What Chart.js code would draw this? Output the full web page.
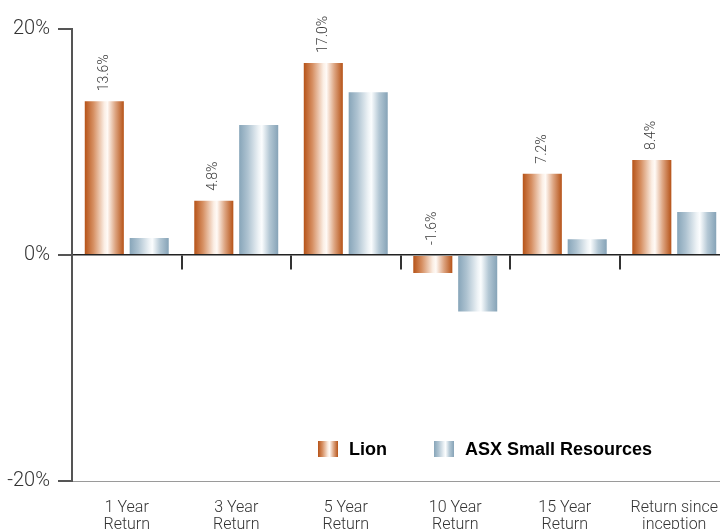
<!DOCTYPE html>
<html>
<head>
<meta charset="utf-8">
<script src="https://cdn.jsdelivr.net/npm/chart.js@4.4.1/dist/chart.umd.min.js"></script>
<style>
  html, body { margin: 0; padding: 0; background: #fff; overflow: hidden; }
  #grafico { display: block; }
</style>
</head>
<body>
<canvas id="grafico" width="737" height="530"></canvas>
<script>
const categorias = [['1 Year', 'Return'], ['3 Year', 'Return'], ['5 Year', 'Return'], ['10 Year', 'Return'], ['15 Year', 'Return'], ['Return since', 'inception']];
const valoresLion = [13.6, 4.8, 17.0, -1.6, 7.2, 8.4];
const valoresASX = [1.5, 11.5, 14.4, -5.0, 1.4, 3.8];
const ticksY = [-20, 0, 20];
const nombresSeries = ['Lion', 'ASX Small Resources'];

const catPct = 0.82;
const barPct = 0.87;
const fuenteLigera = 'Roboto, "Liberation Sans", sans-serif';

const paradasNaranja = [[0, '#b65318'], [0.22, '#d68f62'], [0.5, '#fbeee4'], [0.58, '#fffaf6'], [0.78, '#dda582'], [1, '#b65318']];
const paradasAzul = [[0, '#87a5b9'], [0.22, '#aec3d1'], [0.5, '#eef3f6'], [0.58, '#fbfdfe'], [0.78, '#b3c7d4'], [1, '#86a3b7']];

function degradado(chart, i, ds, paradas) {
  const xs = chart.scales.x;
  if (!xs || !chart.chartArea) return paradas[0][1];
  const ancho = xs.width / categorias.length;
  const slot = ancho * catPct / 2;
  const barra = slot * barPct;
  const centro = xs.getPixelForValue(i) + (ds === 0 ? -slot / 2 : slot / 2);
  const g = chart.ctx.createLinearGradient(centro - barra / 2, 0, centro + barra / 2, 0);
  paradas.forEach(([p, c]) => g.addColorStop(p, c));
  return g;
}

function degradadoCaja(ctx, x, w, paradas) {
  const g = ctx.createLinearGradient(x, 0, x + w, 0);
  paradas.forEach(([p, c]) => g.addColorStop(p, c));
  return g;
}

// etiquetas rotadas encima de las barras de Lion
const etiquetas = {
  id: 'etiquetas',
  afterDatasetsDraw(chart) {
    const { ctx } = chart;
    const ys = chart.scales.y;
    const meta = chart.getDatasetMeta(0);
    ctx.save();
    ctx.font = '300 14px ' + fuenteLigera;
    ctx.fillStyle = '#3a3a3a';
    ctx.textAlign = 'left';
    ctx.textBaseline = 'middle';
    meta.data.forEach((el, i) => {
      const v = valoresLion[i];
      const y = ys.getPixelForValue(Math.max(v, 0)) - 10;
      ctx.save();
      ctx.translate(el.x, y);
      ctx.rotate(-Math.PI / 2);
      ctx.fillText(v.toFixed(1) + '%', 0, 0);
      ctx.restore();
    });
    ctx.restore();
  }
};

// leyenda dentro del area del grafico
const leyenda = {
  id: 'leyenda',
  afterDraw(chart) {
    const { ctx, chartArea } = chart;
    const y = chartArea.bottom - 32;
    const items = [
      { x: chartArea.left + 246, paradas: paradasNaranja, texto: nombresSeries[0] },
      { x: chartArea.left + 362, paradas: paradasAzul, texto: nombresSeries[1] }
    ];
    ctx.save();
    ctx.font = 'bold 18px "Liberation Sans", Arial, sans-serif';
    ctx.textBaseline = 'middle';
    items.forEach(it => {
      ctx.fillStyle = degradadoCaja(ctx, it.x, 20, it.paradas);
      ctx.fillRect(it.x, y - 8, 20, 16);
      ctx.fillStyle = '#000';
      ctx.fillText(it.texto, it.x + 31, y + 1);
    });
    ctx.restore();
  }
};

new Chart(document.getElementById('grafico'), {
  type: 'bar',
  data: {
    labels: categorias,
    datasets: [
      {
        label: nombresSeries[0],
        data: valoresLion,
        backgroundColor: c => degradado(c.chart, c.dataIndex, 0, paradasNaranja),
        categoryPercentage: catPct,
        barPercentage: barPct
      },
      {
        label: nombresSeries[1],
        data: valoresASX,
        backgroundColor: c => degradado(c.chart, c.dataIndex, 1, paradasAzul),
        categoryPercentage: catPct,
        barPercentage: barPct
      }
    ]
  },
  options: {
    responsive: false,
    animation: false,
    layout: { padding: { top: 29, left: 0, right: 0, bottom: 0 } },
    plugins: {
      legend: { display: false },
      tooltip: { enabled: false }
    },
    scales: {
      x: {
        offset: true,
        grid: { display: false, drawTicks: false },
        border: { display: true, color: '#9a9a9a', width: 1, dash: [1, 2] },
        ticks: {
          color: '#333',
          padding: 19,
          maxRotation: 0,
          autoSkip: false,
          font: { family: fuenteLigera, size: 16, weight: '300', lineHeight: 1.05 }
        },
        afterFit: s => { s.height = 49; }
      },
      x2: {
        type: 'category',
        labels: categorias,
        position: { y: 0 },
        offset: true,
        grid: { offset: true, drawOnChartArea: false, drawTicks: true, tickLength: 14, color: '#333', lineWidth: 2 },
        border: { display: true, color: '#222', width: 1.5 },
        ticks: { display: false },
        afterFit: s => { s.height = 0; }
      },
      y: {
        min: -20,
        max: 20,
        afterBuildTicks: s => { s.ticks = ticksY.map(v => ({ value: v })); },
        grid: { drawOnChartArea: false, drawTicks: true, tickLength: 14, color: '#555', lineWidth: 2 },
        border: { display: true, color: '#555', width: 2 },
        ticks: {
          color: '#333',
          padding: 8,
          callback: v => v + '%',
          font: { family: fuenteLigera, size: 20, weight: '300' }
        },
        afterFit: s => { s.width = 72; }
      }
    }
  },
  plugins: [etiquetas, leyenda]
});
</script>
</body>
</html>
